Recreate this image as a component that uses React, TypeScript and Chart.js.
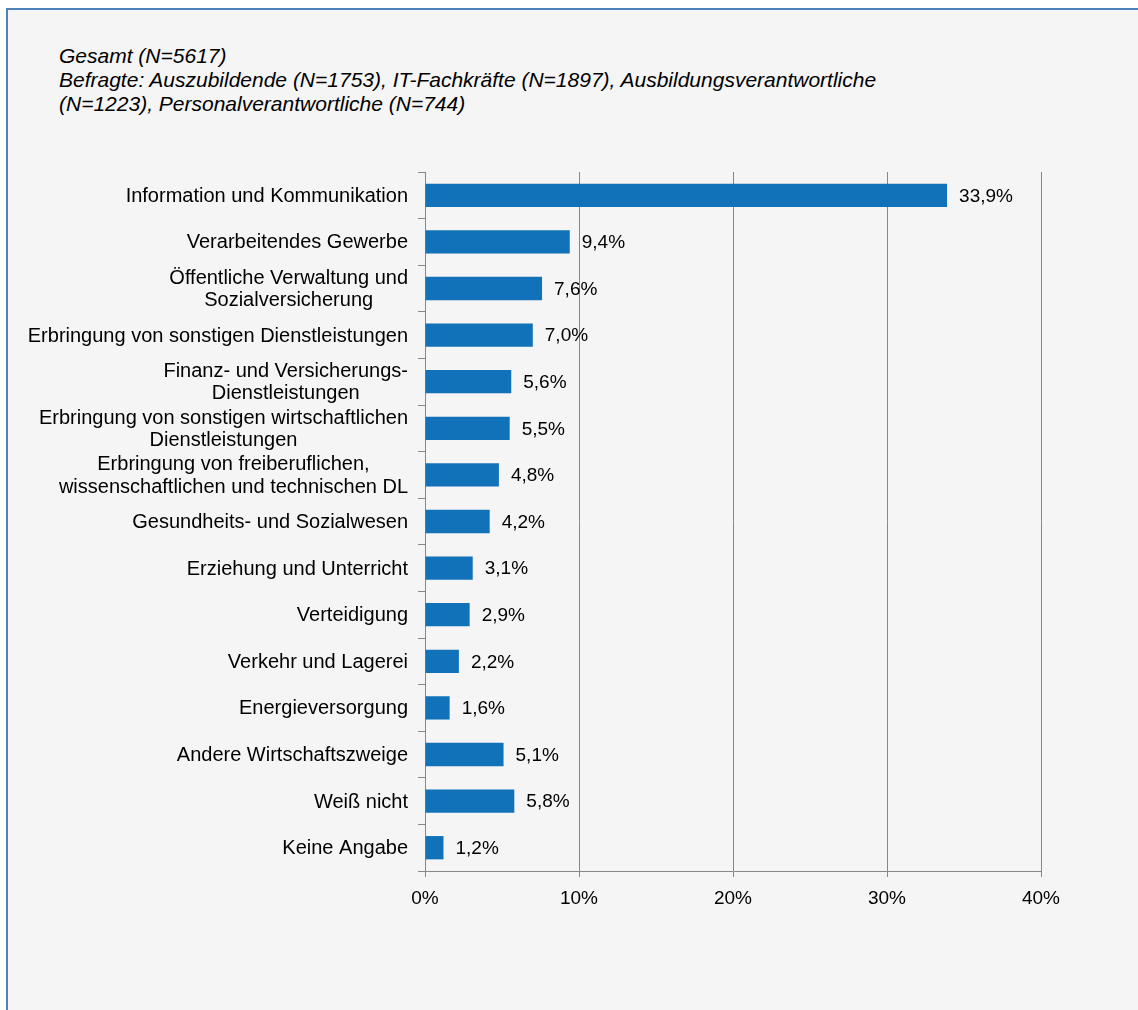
import React, { useEffect, useRef } from "react";
import { Chart, registerables } from "chart.js";

Chart.register(...registerables);

const categories: string[][] = [
  ["Information und Kommunikation"],
  ["Verarbeitendes Gewerbe"],
  ["Öffentliche Verwaltung und", "Sozialversicherung"],
  ["Erbringung von sonstigen Dienstleistungen"],
  ["Finanz- und Versicherungs-", "Dienstleistungen"],
  ["Erbringung von sonstigen wirtschaftlichen", "Dienstleistungen"],
  ["Erbringung von freiberuflichen,", "wissenschaftlichen und technischen DL"],
  ["Gesundheits- und Sozialwesen"],
  ["Erziehung und Unterricht"],
  ["Verteidigung"],
  ["Verkehr und Lagerei"],
  ["Energieversorgung"],
  ["Andere Wirtschaftszweige"],
  ["Weiß nicht"],
  ["Keine Angabe"],
];

const values: number[] = [33.9, 9.4, 7.6, 7.0, 5.6, 5.5, 4.8, 4.2, 3.1, 2.9, 2.2, 1.6, 5.1, 5.8, 1.2];

const xTicks: number[] = [0, 10, 20, 30, 40];

const titleLines: string[] = [
  "Gesamt (N=5617)",
  "Befragte: Auszubildende (N=1753), IT-Fachkräfte (N=1897), Ausbildungsverantwortliche",
  "(N=1223), Personalverantwortliche (N=744)",
];

const FONT = "'Liberation Sans', Arial, sans-serif";
const FONT_SIZE = 19;
const CAT_FONT_SIZE = 20;
const TITLE_FONT_SIZE = 21;
const BAR_COLOR = "#1172b9";
const GRID_COLOR = "#878787";

const fmt = (v: number) => v.toFixed(1).replace(".", ",") + "%";

export default function App() {
  const ref = useRef<HTMLCanvasElement | null>(null);

  useEffect(() => {
    if (!ref.current) return;
    const labelPlugin = {
      id: "customLabels",
      afterDatasetsDraw(chart: any) {
        const ctx = chart.ctx;
        const yScale = chart.scales.y;
        const meta = chart.getDatasetMeta(0);
        ctx.save();
        ctx.fillStyle = "#000";
        ctx.textBaseline = "middle";
        // category labels: block right-aligned, lines centered
        ctx.font = `${CAT_FONT_SIZE}px ${FONT}`;
        const rightEdge = chart.chartArea.left - 17;
        const lineH = 22.5;
        categories.forEach((lines, i) => {
          const cy = yScale.getPixelForValue(i) + 1;
          const widths = lines.map((l) => ctx.measureText(l).width);
          const w = Math.max(...widths);
          const cx = rightEdge - w / 2;
          ctx.textAlign = "center";
          lines.forEach((l, j) => {
            const y = cy + (j - (lines.length - 1) / 2) * lineH;
            ctx.fillText(l, cx, y);
          });
        });
        // value labels
        ctx.font = `${FONT_SIZE}px ${FONT}`;
        ctx.textAlign = "left";
        meta.data.forEach((bar: any, i: number) => {
          ctx.fillText(fmt(values[i]), bar.x + 12, bar.y + 1);
        });
        ctx.restore();
      },
    };

    const chart = new Chart(ref.current, {
      type: "bar",
      data: {
        labels: categories.map((c) => c.join(" ")),
        datasets: [
          {
            data: values,
            backgroundColor: BAR_COLOR,
            borderWidth: 0,
            barPercentage: 0.5,
            categoryPercentage: 1,
          },
        ],
      },
      options: {
        indexAxis: "y",
        responsive: false,
        animation: false,
        devicePixelRatio: 1,
        layout: { padding: { top: 172, left: 0, right: 97, bottom: 89 } },
        plugins: {
          legend: { display: false },
          tooltip: { enabled: false },
          title: { display: false },
        },
        scales: {
          x: {
            min: 0,
            max: 40,
            afterBuildTicks: (scale: any) => {
              scale.ticks = xTicks.map((v) => ({ value: v }));
            },
            afterFit: (scale: any) => {
              scale.height = 50;
            },
            grid: {
              color: GRID_COLOR,
              lineWidth: 1,
              drawOnChartArea: true,
              drawTicks: true,
              tickLength: 6,
            },
            border: { color: GRID_COLOR, width: 1 },
            ticks: {
              color: "#000",
              font: { family: FONT, size: FONT_SIZE },
              padding: 10,
              maxRotation: 0,
              callback: (v: any) => `${v}%`,
            },
          },
          y: {
            afterFit: (scale: any) => {
              scale.width = 425;
            },
            grid: {
              color: GRID_COLOR,
              lineWidth: 1,
              drawOnChartArea: false,
              drawTicks: true,
              tickLength: 7,
              offset: true,
            },
            border: { color: GRID_COLOR, width: 1 },
            ticks: { display: false },
          },
        },
      },
      plugins: [labelPlugin],
    } as any);
    return () => chart.destroy();
  }, []);

  return (
    <div
      style={{
        position: "fixed",
        left: 0,
        top: 0,
        width: 1138,
        height: 1010,
        overflow: "hidden",
        background: "#ffffff",
      }}
    >
      <div
        style={{
          position: "absolute",
          left: 6,
          top: 8,
          width: 1300,
          height: 1200,
          border: "2px solid #4f81bd",
          background: "#f5f5f5",
          boxSizing: "border-box",
        }}
      />
      <div
        style={{
          position: "absolute",
          left: 59,
          top: 44,
          fontFamily: FONT,
          fontStyle: "italic",
          fontSize: TITLE_FONT_SIZE,
          lineHeight: "24px",
          color: "#000",
          whiteSpace: "nowrap",
        }}
      >
        {titleLines.map((t, i) => (
          <div key={i}>{t}</div>
        ))}
      </div>
      <canvas
        ref={ref}
        width={1138}
        height={1010}
        style={{ position: "absolute", left: 0, top: 0, width: 1138, height: 1010 }}
      />
    </div>
  );
}
